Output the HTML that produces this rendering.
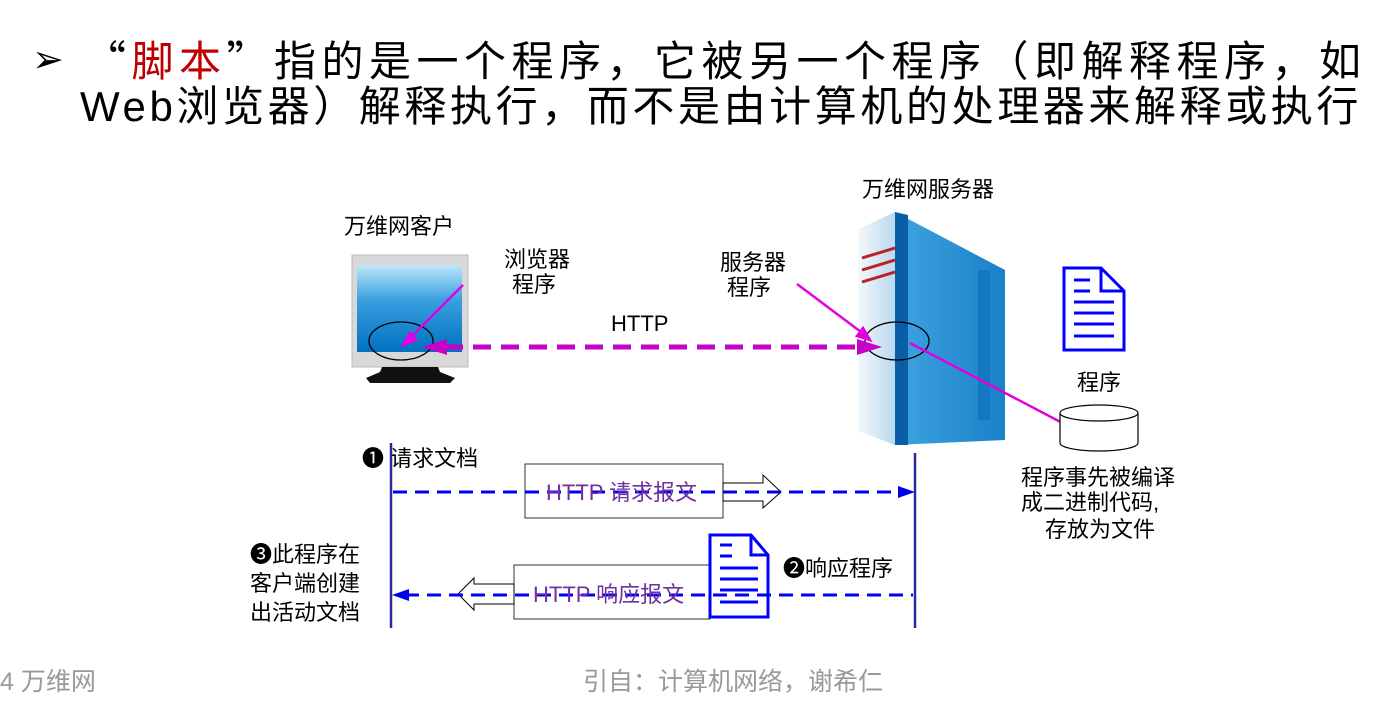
<!DOCTYPE html>
<html><head><meta charset="utf-8"><style>
body{margin:0;background:#fff;width:1390px;height:718px;overflow:hidden;font-family:"Liberation Sans","Noto Sans CJK SC",sans-serif;}
.t{position:absolute;font-size:42px;color:#000;white-space:nowrap;line-height:1}
.q{font-family:"Noto Sans CJK SC",sans-serif}
</style></head><body>
<div class="t" style="left:32px;top:40px;font-size:38px;font-family:'DejaVu Sans',sans-serif">➢</div>
<div class="t" style="left:84px;top:38px;letter-spacing:5.5px"><span class="q">“</span><span style="color:#c00000">脚本</span><span class="q">”</span>指的是一个程序，它被另一个程序（即解释程序，如</div>
<div class="t" style="left:80px;top:86px;letter-spacing:3.6px">Web浏览器）解释执行，而不是由计算机的处理器来解释或执行</div>
<svg width="1390" height="718" style="position:absolute;left:0;top:0" font-family="Liberation Sans, Noto Sans CJK SC, sans-serif">
<defs>
<linearGradient id="scr" x1="0" y1="0" x2="0" y2="1"><stop offset="0" stop-color="#bfe6fb"/><stop offset="0.4" stop-color="#3aa0e0"/><stop offset="1" stop-color="#0070c0"/></linearGradient>
<linearGradient id="srv" x1="0" y1="0" x2="1" y2="0"><stop offset="0" stop-color="#4ab0e8"/><stop offset="1" stop-color="#1a80c8"/></linearGradient>
<linearGradient id="srvf" x1="0" y1="0" x2="1" y2="0"><stop offset="0" stop-color="#f4f8fb"/><stop offset="1" stop-color="#b9d8ef"/></linearGradient>
</defs>
<g font-size="22" fill="#000">
<text x="344" y="234">万维网客户</text>
<text x="862" y="197">万维网服务器</text>
<text x="504" y="267">浏览器</text><text x="512" y="292">程序</text>
<text x="720" y="270">服务器</text><text x="727" y="295">程序</text>
<text x="611" y="331" font-size="22">HTTP</text>
<text x="1077" y="390">程序</text>
<text x="1021" y="485">程序事先被编译</text>
<text x="1021" y="510">成二进制代码,</text>
<text x="1045" y="537">存放为文件</text>
<text x="362" y="466">❶ 请求文档</text>
<text x="250" y="562">❸此程序在</text><text x="250" y="591">客户端创建</text><text x="250" y="620">出活动文档</text>
<text x="783" y="576">❷响应程序</text>
</g>
<!-- monitor -->
<rect x="352" y="255" width="116" height="112" fill="#d8d8d8" stroke="#bbb"/>
<rect x="357" y="265" width="105" height="87" fill="url(#scr)"/>
<polygon points="382,367 438,367 440,372 455,378 450,383 370,383 366,378 380,372" fill="#111"/>
<ellipse cx="401" cy="341" rx="32" ry="19" fill="none" stroke="#000" stroke-width="1.3"/>
<!-- server -->
<polygon points="858,230 895,212 1005,270 1005,440 895,445 858,430" fill="url(#srv)"/>
<polygon points="858,230 895,212 895,445 858,430" fill="url(#srvf)"/>
<polygon points="895,212 908,215 908,445 895,445" fill="#0a5ea8"/>
<path d="M862,258 L895,248 M862,270 L895,260 M862,282 L895,272" stroke="#b22" stroke-width="3"/>
<rect x="978" y="270" width="12" height="150" fill="#1478c0"/>
<ellipse cx="897" cy="341" rx="32" ry="19" fill="none" stroke="#000" stroke-width="1.3"/>
<!-- magenta arrows -->
<g stroke="#e000e0" stroke-width="2.5" fill="#e000e0">
<line x1="463" y1="285" x2="405" y2="343"/><polygon points="403,345 410,333 416,340"/>
<line x1="797" y1="284" x2="865" y2="335"/><polygon points="870,340 857,336 863,328"/>
<line x1="910" y1="343" x2="1070" y2="427"/><polygon points="1075,430 1061,428 1066,420"/>
</g>
<line x1="445" y1="347" x2="862" y2="347" stroke="#c800c8" stroke-width="5" stroke-dasharray="18,10"/>
<polygon points="422,347 447,339 447,355" fill="#c800c8"/>
<polygon points="882,347 857,339 857,355" fill="#c800c8"/>
<!-- doc icon -->
<g stroke="#0000ff" stroke-width="3" fill="#fff">
<polygon points="1064,268 1101,268 1124,291 1124,350 1064,350"/>
<polyline points="1101,268 1101,291 1124,291" fill="none"/>
<path d="M1074,280H1090M1074,291H1090M1074,302H1114M1074,313H1114M1074,324H1114M1074,336H1114" fill="none"/>
</g>
<!-- cylinder -->
<path d="M1060,413 V443 A39,8 0 0 0 1138,443 V413" fill="#fff" stroke="#000" stroke-width="1.2"/>
<ellipse cx="1099" cy="413" rx="39" ry="8" fill="#fff" stroke="#000" stroke-width="1.2"/>
<!-- sequence -->
<line x1="391" y1="443" x2="391" y2="628" stroke="#2a2a9a" stroke-width="2.5"/>
<line x1="915" y1="453" x2="915" y2="628" stroke="#2a2a9a" stroke-width="2.5"/>
<rect x="525" y="464" width="198" height="54" fill="#fff" stroke="#333"/>
<polygon points="723,483 763,483 763,475 781,492 763,508 763,501 723,501" fill="#fff" stroke="#000"/>
<line x1="393" y1="492" x2="900" y2="492" stroke="#0000ee" stroke-width="3" stroke-dasharray="14,8"/>
<polygon points="915,492 898,486 898,498" fill="#0000ee"/>
<text x="546" y="500" font-size="22" fill="#7030a0">HTTP 请求报文</text>
<rect x="514" y="565" width="196" height="54" fill="#fff" stroke="#333"/>
<polygon points="514,584 474,584 474,578 458,594 474,610 474,604 514,604" fill="#fff" stroke="#000"/>
<g stroke="#0000ff" stroke-width="3" fill="#fff">
<polygon points="710,535 751,535 768,555 768,617 710,617"/>
<polyline points="751,535 751,555 768,555" fill="none"/>
<path d="M720,545H732M720,556H732M720,568H758M720,579H758M720,590H758M720,602H758" fill="none"/>
</g>
<line x1="405" y1="595" x2="913" y2="595" stroke="#0000ee" stroke-width="3" stroke-dasharray="14,8"/>
<polygon points="392,595 409,589 409,601" fill="#0000ee"/>
<text x="533" y="602" font-size="22" fill="#7030a0">HTTP 响应报文</text>
<g font-size="25" fill="#999"><text x="0" y="690">4 万维网</text><text x="583" y="690">引自：计算机网络，谢希仁</text></g>
</svg>
</body></html>
